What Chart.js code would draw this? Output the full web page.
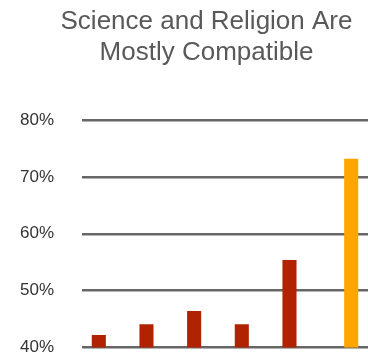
<!DOCTYPE html>
<html>
<head>
<meta charset="utf-8">
<script src="https://cdn.jsdelivr.net/npm/chart.js@4"></script>
<style>
  html, body { margin: 0; padding: 0; background: #fff; overflow: hidden; }
  canvas { display: block; }
</style>
</head>
<body>
<canvas id="c" width="368" height="356"></canvas>
<script>
const titleLines = ["Science and Religion Are", "Mostly Compatible"];
const categories = ["1", "2", "3", "4", "5", "6"];
const seriesRed = [42.2, 44.1, 46.4, 44.1, 55.4, null];
const seriesOrange = [null, null, null, null, null, 73.2];
const yTicks = [40, 50, 60, 70, 80];

const shiftTitle = {
  id: 'shiftTitle',
  afterLayout(chart) {
    const t = chart.titleBlock;
    if (t) {
      const d = 206.5 - (t.left + t.right) / 2;
      t.left += d; t.right += d;
    }
  }
};

new Chart(document.getElementById('c'), {
  type: 'bar',
  data: {
    labels: categories,
    datasets: [
      { data: seriesRed, backgroundColor: '#b02200', categoryPercentage: 0.59, barPercentage: 1.0 },
      { data: seriesOrange, backgroundColor: '#ffa500', categoryPercentage: 0.59, barPercentage: 1.0 }
    ]
  },
  options: {
    responsive: false,
    animation: false,
    layout: { padding: { left: 20, right: -2, top: 0, bottom: 0 } },
    plugins: {
      legend: { display: false },
      tooltip: { enabled: false },
      title: {
        display: true,
        text: titleLines,
        color: '#595959',
        font: { family: 'Liberation Sans, Arial, sans-serif', size: 26, weight: 'normal', lineHeight: 1.2 },
        padding: { top: 6, bottom: 51.6 }
      }
    },
    scales: {
      x: { display: false },
      y: {
        min: 40, max: 80,
        afterBuildTicks(scale) { scale.ticks = yTicks.map(v => ({ value: v })); },
        afterFit(scale) { scale.width = 62; },
        border: { display: false },
        grid: { color: '#666', lineWidth: 2.5, drawTicks: false },
        ticks: {
          padding: 0,
          crossAlign: 'far',
          color: '#333',
          font: { family: 'Liberation Sans, Arial, sans-serif', size: 17, lineHeight: 1.0 },
          callback: v => v + '%'
        }
      }
    }
  },
  plugins: [shiftTitle]
});
</script>
</body>
</html>
